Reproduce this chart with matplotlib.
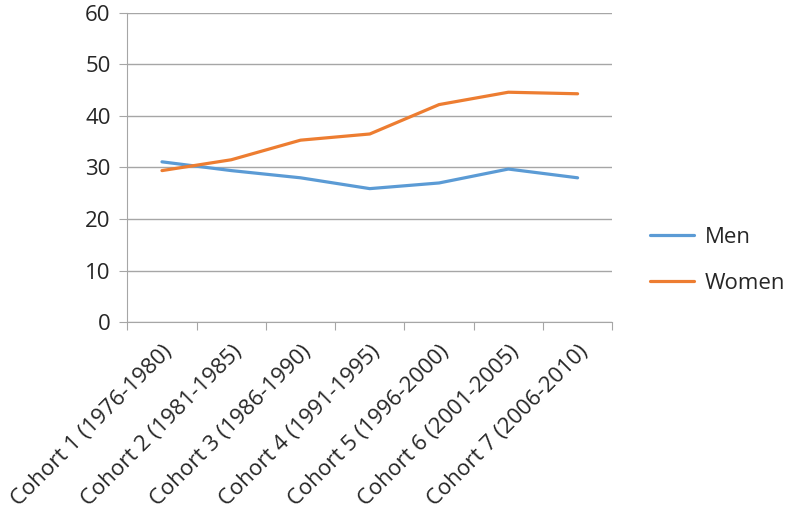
import numpy as np
import matplotlib.pyplot as plt

plt.rcParams['font.family'] = ['Open Sans', 'DejaVu Sans']

cohorts = ["Cohort 1 (1976-1980)", "Cohort 2 (1981-1985)", "Cohort 3 (1986-1990)",
           "Cohort 4 (1991-1995)", "Cohort 5 (1996-2000)", "Cohort 6 (2001-2005)",
           "Cohort 7 (2006-2010)"]
men = [31.1, 29.4, 28.0, 25.9, 27.0, 29.7, 28.0]
women = [29.4, 31.5, 35.3, 36.5, 42.2, 44.6, 44.3]

fig = plt.figure(figsize=(7.91, 5.13), dpi=100)
ax = fig.add_axes([0.161, 0.372, 0.613, 0.603])

x = np.arange(len(cohorts))
ax.plot(x, men, color="#5B9BD5", lw=2.3, label="Men", solid_capstyle="round")
ax.plot(x, women, color="#ED7D31", lw=2.3, label="Women", solid_capstyle="round")

ax.set_xlim(-0.5, len(cohorts) - 0.5)
ax.set_ylim(0, 60)
ax.set_yticks(range(0, 61, 10))
ax.yaxis.grid(True, color="#A6A6A6", lw=1)
ax.set_axisbelow(True)

ax.set_xticks(np.arange(-0.5, len(cohorts), 1))
ax.set_xticklabels([])
ax.set_xticks(x, minor=True)
ax.set_xticklabels(cohorts, minor=True, rotation=45, ha="right", rotation_mode="anchor",
                   fontsize=16, color="#262626")
ax.tick_params(axis="x", which="minor", length=0, pad=14)
ax.tick_params(axis="x", which="major", length=6, color="#A6A6A6", direction="out")
ax.tick_params(axis="y", length=6, color="#A6A6A6", labelsize=16, labelcolor="#262626", pad=6)

for s in ["top", "right"]:
    ax.spines[s].set_visible(False)
for s in ["left", "bottom"]:
    ax.spines[s].set_color("#A6A6A6")

ax.legend(loc="center left", bbox_to_anchor=(1.078, 0.2), frameon=False, fontsize=16,
          borderaxespad=0, borderpad=0, handlelength=2.0, handletextpad=0.45,
          labelspacing=1.1, labelcolor="#262626")

fig.savefig("out.png", dpi=100)
